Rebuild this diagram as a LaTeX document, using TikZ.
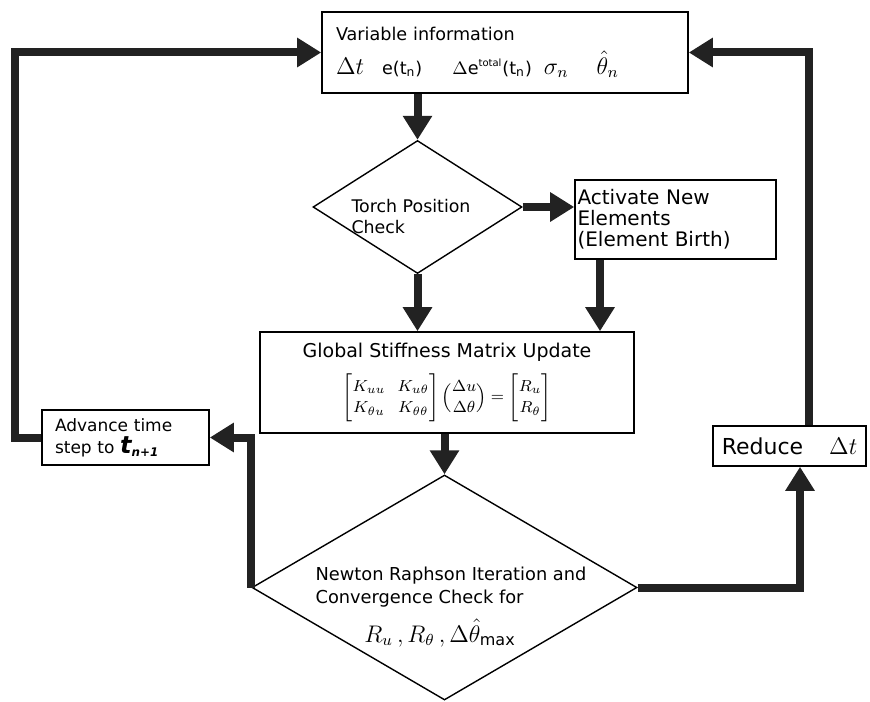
\documentclass[tikz,border=0pt]{standalone}
\usepackage{amsmath}
\usepackage{fontspec}
\setmainfont{DejaVu Sans}
\usetikzlibrary{arrows.meta, positioning, shapes.geometric, calc}
\definecolor{linkgray}{RGB}{34,34,34}
\tikzset{
  box/.style={rectangle, draw=black, line width=0.8pt, fill=white,
              align=left},
  decision/.style={diamond, draw=black, line width=0.7pt, inner sep=0pt},
  lbl/.style={align=left, inner sep=0pt},
  arr/.style={-{Triangle[length=12pt, width=14pt]}, line width=4pt,
              draw=linkgray},
}

\begin{document}
\begin{tikzpicture}[x=0.5pt, y=-0.5pt]
  \useasboundingbox (0,0) rectangle (870,701);

  \node[box, minimum width=183pt, minimum height=40.5pt, text width=169pt,
        inner xsep=7pt, font=\fontsize{8.8}{10}\selectfont] (var) at (505,52.5)
    {Variable information\\[4pt]
     {\large$\Delta t$}\hspace{9pt}e(t$_{\mathrm{n}}$)\hspace{15pt}{\small$\Delta$}e$^{\text{\tiny total}}$(t$_{\mathrm{n}}$)\hspace{6pt}{\large$\sigma_n$}\hspace{14pt}{\large$\hat{\theta}_n$}};
  \node[decision, minimum width=104.5pt, minimum height=66.5pt] (torch) at (417.5,207) {};
  \node[lbl, font=\fontsize{8.7}{10.5}\selectfont] (torchtxt) at (411,217) {Torch Position\\Check};
  \node[box, minimum width=100.5pt, minimum height=39.5pt, text width=98pt,
        inner xsep=1.25pt, font=\fontsize{10}{10.5}\selectfont] (act) at (675.5,219.5)
    {Activate New\\Elements\\(Element Birth)};
  \node[box, minimum width=187pt, minimum height=50.5pt, align=center, inner ysep=1pt,
        font=\fontsize{9.5}{11}\selectfont] (glob) at (447,382.5)
    {Global Stiffness Matrix Update\\[5pt]
     {\footnotesize\setlength{\arraycolsep}{3pt}\renewcommand{\arraystretch}{1.15}%
      $\begin{bmatrix} K_{uu} & K_{u\theta}\\ K_{\theta u} & K_{\theta\theta}\end{bmatrix}
      \Bigl( \begin{matrix}\Delta u\\ \Delta\theta\end{matrix} \Bigr) =
      \begin{bmatrix} R_u\\ R_\theta\end{bmatrix}$}};
  \node[decision, minimum width=192.5pt, minimum height=112.5pt] (newton) at (444.5,587.5) {};
  \node[lbl, font=\fontsize{8.9}{11.5}\selectfont] (newtontxt) at (451,587)
    {Newton Raphson Iteration and\\Convergence Check for};
  \node[lbl, font=\large] (crit) at (440,633) {$R_u\,, R_\theta\,, \Delta\hat{\theta}_{\mathrm{max}}$};
  \node[box, minimum width=83.5pt, minimum height=27.5pt, text width=70.5pt,
        inner xsep=6.5pt, font=\fontsize{8.5}{11}\selectfont] (adv) at (125.5,437.5)
    {Advance time\\step to {\large\bfseries\itshape t}\textsubscript{\bfseries\itshape n+1}};
  \node[box, minimum width=76.5pt, minimum height=20pt,
        font=\fontsize{11}{12}\selectfont] (red) at (789.5,446)
    {Reduce\hspace{13pt}{\large$\Delta t$}};

  % main flow
  \draw[arr] (torch.north |- var.south) -- (torch.north);
  \draw[arr] (torch.east) -- (torch.east -| act.west);
  \draw[arr] (torch.south) -- (torch.south |- glob.north);
  \draw[arr] ([xshift=-37.75pt]act.south) -- ([xshift=-37.75pt]act.south |- glob.north);
  \draw[arr] (newton.north |- glob.south) -- (newton.north);
  % converged: next step
  \draw[arr] (newton.west) -- (newton.west |- adv.east) -- (adv.east);
  \draw[arr] (adv.west) -- ++(-26,0) |- (var.west);
  % not converged: smaller step
  \draw[arr] (newton.east) -| ([xshift=5.25pt]red.south);
  \draw[arr] ([xshift=9.75pt]red.north) |- (var.east);
\end{tikzpicture}
\end{document}
